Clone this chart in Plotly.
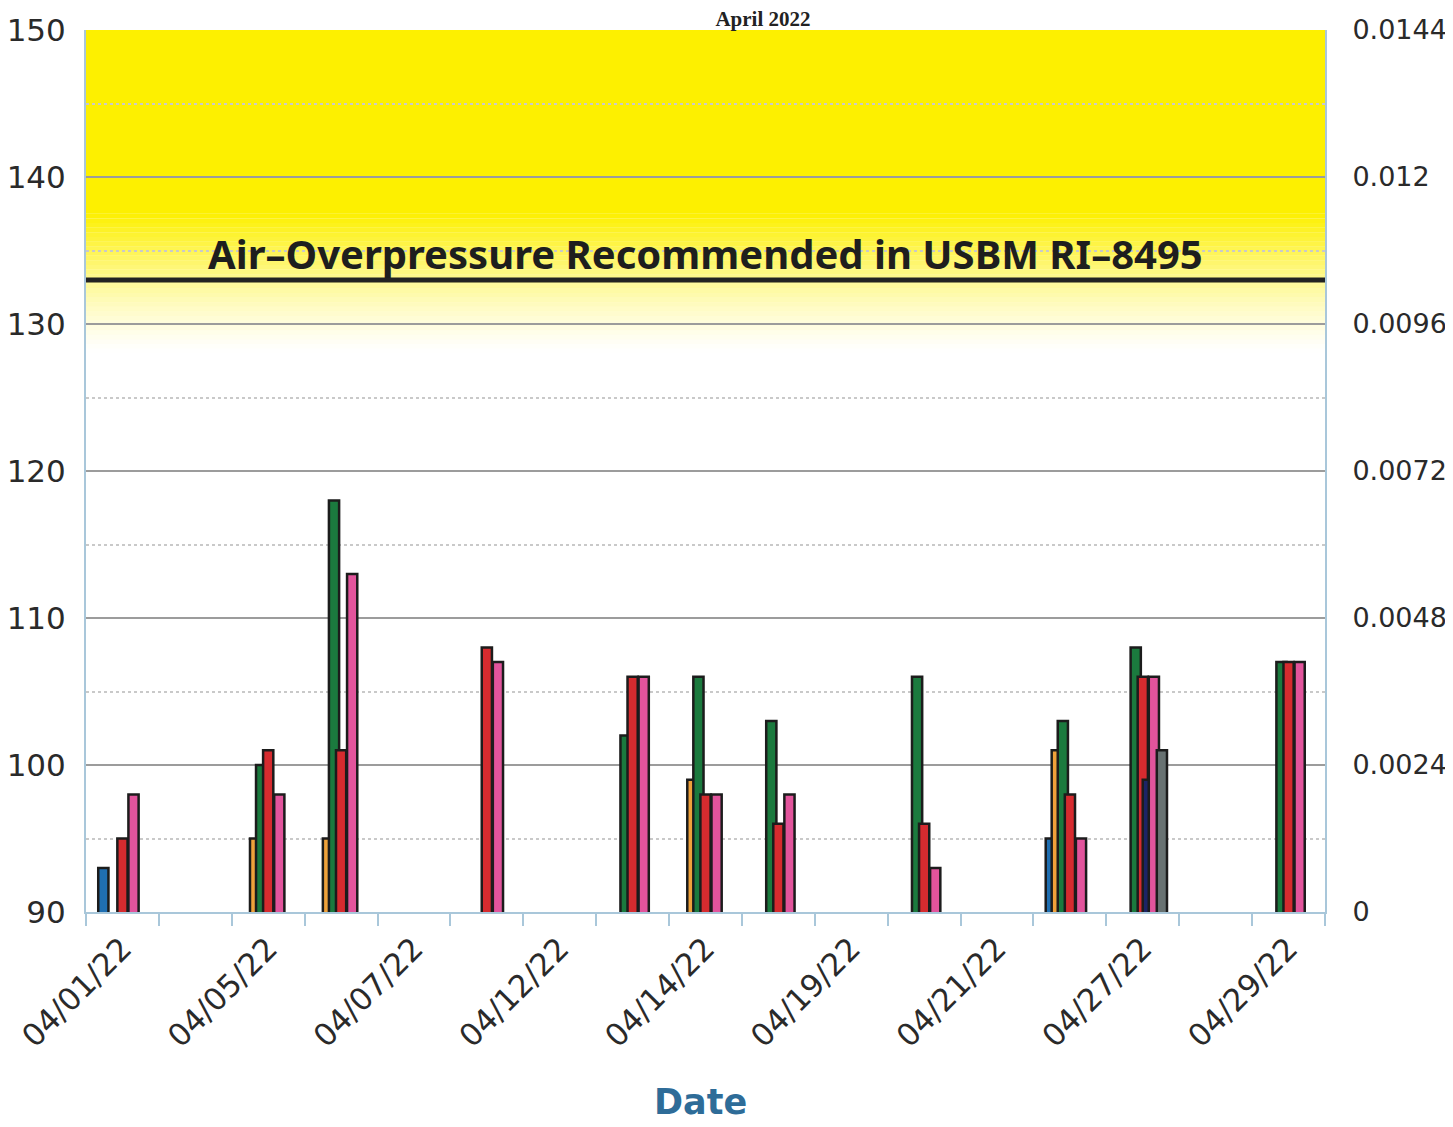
import plotly.graph_objects as go

# ---------------- data ----------------
dates = ["04/01/22", "04/04/22", "04/05/22", "04/06/22", "04/07/22", "04/11/22",
         "04/12/22", "04/13/22", "04/14/22", "04/18/22", "04/19/22", "04/20/22",
         "04/21/22", "04/26/22", "04/27/22", "04/28/22", "04/29/22"]
shown_labels = ["04/01/22", "04/05/22", "04/07/22", "04/12/22", "04/14/22",
                "04/19/22", "04/21/22", "04/27/22", "04/29/22"]

N = None
station_a = [93, N, N, N, N, N, N, N, N, N, N, N, N, 95, N, N, N]
station_b = [N, N, 95, 95, N, N, N, N, 99, N, N, N, N, 101, N, N, N]
station_c = [N, N, 100, 118, N, N, N, 102, 106, 103, N, 106, N, 103, 108, N, 107]
station_d = [95, N, 101, 101, N, 108, N, 106, 98, 96, N, 96, N, 98, 106, N, 107]
station_e = [N, N, N, N, N, N, N, N, N, N, N, N, N, N, 99, N, N]
station_f = [98, N, 98, 113, N, 107, N, 106, 98, 98, N, 93, N, 95, 106, N, 107]
station_g = [N, N, N, N, N, N, N, N, N, N, N, N, N, N, 101, N, N]

series_names = ["Station 1", "Station 2", "Station 3", "Station 4",
                "Station 5", "Station 6", "Station 7"]
series_values = [station_a, station_b, station_c, station_d,
                 station_e, station_f, station_g]

usbm_limit = 133          # dB
y_left_ticks = [90, 100, 110, 120, 130, 140, 150]
y_right_ticks = [0, 0.0024, 0.0048, 0.0072, 0.0096, 0.012, 0.0144]
y_right_text = ["0", "0.0024", "0.0048", "0.0072", "0.0096", "0.012", "0.0144"]

# ---------------- style ----------------
colors = ["#1f6fb2", "#f0a23a", "#1b7a3e", "#d62b2f", "#1c2466", "#e2549c", "#687272"]
slot_offsets = [-0.262, -0.18, -0.097, 0.0, 0.069, 0.152, 0.262]
bar_w = 0.14
axis_blue = "#a9c7da"

# page body has an 8px margin: figure sits at (8, 8)
FIG_W, FIG_H = 1445, 1119
PLOT_TOP, PLOT_BOTTOM = 22, 904      # in figure pixels
PLOT_H = PLOT_BOTTOM - PLOT_TOP

x_idx = list(range(len(dates)))

fig = go.Figure()
for name, vals, col, off in zip(series_names, series_values, colors, slot_offsets):
    fig.add_trace(go.Bar(
        x=x_idx, y=vals, name=name,
        width=bar_w, offset=off - bar_w / 2,
        marker=dict(color=col, line=dict(color="#1c1c1c", width=2.5)),
        customdata=dates, hovertemplate="%{customdata}: %{y} dB<extra>%{fullData.name}</extra>",
    ))

# invisible carrier for the right-hand axis
fig.add_trace(go.Scatter(x=[None], y=[None], yaxis="y2", showlegend=False, hoverinfo="skip"))

# yellow danger band with fade
shapes = []
solid_from = usbm_limit + 4.5
fade_to = usbm_limit - 5
shapes.append(dict(type="rect", xref="paper", x0=0, x1=1, yref="y", y0=solid_from, y1=150,
                   fillcolor="#fdf000", line=dict(width=0), layer="below"))
steps = 30
for i in range(steps):
    y0 = fade_to + (solid_from - fade_to) * i / steps
    y1 = fade_to + (solid_from - fade_to) * (i + 1) / steps
    op = ((i + 0.5) / steps) ** 1.3
    shapes.append(dict(type="rect", xref="paper", x0=0, x1=1, yref="y", y0=y0, y1=y1,
                       fillcolor="#fdf000", opacity=op, line=dict(width=0), layer="below"))
# limit line
shapes.append(dict(type="line", xref="paper", x0=0, x1=1, yref="y", y0=usbm_limit, y1=usbm_limit,
                   line=dict(color="#222222", width=5), layer="above"))

fig.update_layout(
    width=FIG_W, height=FIG_H,
    margin=dict(l=78, r=128, t=PLOT_TOP, b=FIG_H - PLOT_BOTTOM, autoexpand=False),
    paper_bgcolor="white", plot_bgcolor="white",
    barmode="overlay", showlegend=False,
    shapes=shapes,
    font=dict(family="DejaVu Sans", color="#2a2a2a"),
    title=dict(text="<b>April 2022</b>", x=(763 - 8) / FIG_W, xref="container",
               y=1 - 11 / FIG_H, yref="container",
               xanchor="center", yanchor="middle",
               font=dict(family="Liberation Serif", size=21, color="#222")),
    xaxis=dict(
        range=[-0.5, len(dates) - 0.5], automargin=False,
        tickmode="array",
        tickvals=[dates.index(d) for d in shown_labels],
        ticktext=shown_labels,
        tickangle=-45, ticks="", ticklabelstandoff=4,
        tickfont=dict(size=31, color="#2a2a2a"),
        showgrid=False, zeroline=False,
        showline=True, linecolor=axis_blue, linewidth=2,
        minor=dict(tick0=-0.5, dtick=1, ticks="outside", ticklen=12,
                   tickcolor=axis_blue, tickwidth=2, showgrid=False),
    ),
    yaxis=dict(
        range=[90, 150], tickmode="array", tickvals=y_left_ticks, automargin=False,
        tickfont=dict(size=31, color="#2a2a2a"), ticks="", ticklabelstandoff=12,
        showgrid=True, gridcolor="#9c9c9c", gridwidth=2, zeroline=False,
        showline=True, linecolor=axis_blue, linewidth=2,
        minor=dict(dtick=5, showgrid=True, gridcolor="#c9c9c9", griddash="dot", gridwidth=1.5),
    ),
    yaxis2=dict(
        range=[0, 0.0144], overlaying="y", side="right", anchor="x", automargin=False,
        tickmode="array", tickvals=y_right_ticks, ticktext=y_right_text,
        tickfont=dict(size=27, color="#2a2a2a"), ticks="", ticklabelstandoff=20,
        showgrid=False, zeroline=False,
        showline=True, linecolor=axis_blue, linewidth=2,
    ),
    annotations=[
        dict(text="Air\u2013Overpressure Recommended in USBM RI\u20138495",
             xref="paper", x=0.5, yref="y", y=usbm_limit + 1.8, xanchor="center", yanchor="middle",
             showarrow=False, font=dict(family="Noto Sans", size=40, color="#1e1e1e", weight="bold")),
        dict(text="<b>Date</b>", xref="paper", x=(697 - 86) / 1231, yref="paper",
             y=-(1102 - 8 - PLOT_BOTTOM) / PLOT_H, xanchor="center", yanchor="middle", showarrow=False,
             font=dict(family="DejaVu Sans", size=35, color="#2e6c98")),
    ],
)

fig.write_html("out.html")
